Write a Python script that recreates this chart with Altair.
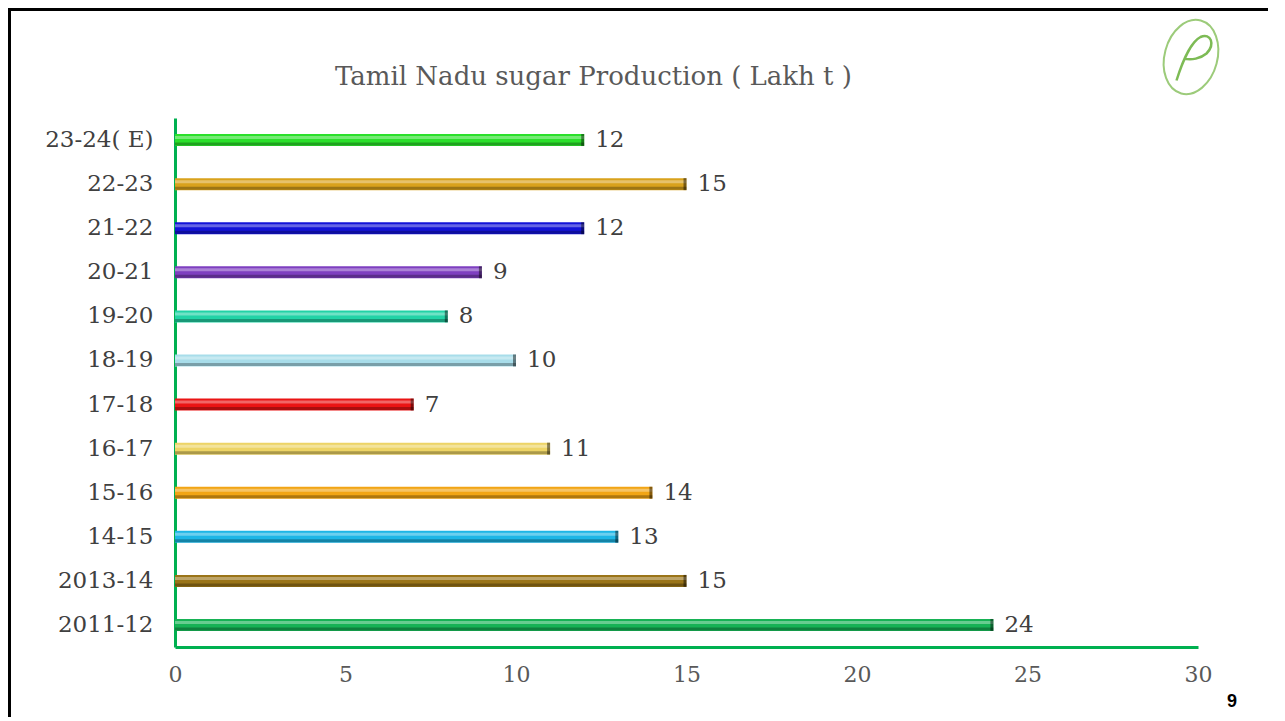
import altair as alt
import pandas as pd

categories = ["23-24( E)", "22-23", "21-22", "20-21", "19-20", "18-19",
              "17-18", "16-17", "15-16", "14-15", "2013-14", "2011-12"]
values = [12, 15, 12, 9, 8, 10, 7, 11, 14, 13, 15, 24]
bar_colors = ["#2BE02B", "#D9A21C", "#1414D8", "#7E3FC0", "#22D3A6", "#A8DDEA",
              "#EA1414", "#EDD466", "#F2A514", "#1CB6E6", "#9A7418", "#17B255"]
x_ticks = [0, 5, 10, 15, 20, 25, 30]
title_text = "Tamil Nadu sugar Production ( Lakh t )"
page_number = "9"

df = pd.DataFrame({"season": categories, "value": values, "color": bar_colors})

W, H = 1023, 529
LEFT, TOP = 167, 110
SERIF = "DejaVu Serif"

x_enc = alt.X("value:Q",
              scale=alt.Scale(domain=[0, 30], nice=False),
              axis=alt.Axis(values=x_ticks, title=None, grid=False, ticks=False,
                            labelFlush=False,
                            domainColor="#00B050", domainWidth=3,
                            labelFont=SERIF, labelFontSize=22, labelColor="#595959",
                            labelPadding=17))
y_enc = alt.Y("season:N", sort=categories,
              scale=alt.Scale(paddingInner=0.72, paddingOuter=0.36),
              axis=alt.Axis(title=None, grid=False, ticks=False,
                            domainColor="#00B050", domainWidth=3,
                            labelFont=SERIF, labelFontSize=23, labelColor="#404040",
                            labelPadding=22))

base = alt.Chart(df)

bars = base.mark_bar(size=12).encode(
    x=x_enc, y=y_enc,
    color=alt.Color("color:N", scale=None),
)
highlight = base.mark_bar(size=3, yOffset=-2.5, color="white", opacity=0.35).encode(
    x="value:Q", y=alt.Y("season:N", sort=categories))
shadow = base.mark_bar(size=3, yOffset=4, color="black", opacity=0.28).encode(
    x="value:Q", y=alt.Y("season:N", sort=categories))
caps = base.mark_tick(thickness=3, size=12, xOffset=-1.5, color="black", opacity=0.45).encode(
    x="value:Q", y=alt.Y("season:N", sort=categories))
labels = base.mark_text(align="left", baseline="middle", dx=11, font=SERIF,
                        fontSize=23, color="#404040").encode(
    x="value:Q", y=alt.Y("season:N", sort=categories), text="value:Q")

# decorations (slide frame, title, logo, page number)
deco = pd.DataFrame({"k": [1]})
frame_left = alt.Chart(deco).mark_rule(color="black", strokeWidth=3).encode(
    x=alt.value(-165.5), y=alt.value(-109), y2=alt.value(H + 95))
frame_top = alt.Chart(deco).mark_rule(color="black", strokeWidth=3).encode(
    x=alt.value(-167), x2=alt.value(W + 70), y=alt.value(-108.5))
title = alt.Chart(pd.DataFrame({"t": [title_text]})).mark_text(
    align="left", baseline="middle", font=SERIF, fontSize=26, color="#595959").encode(
    x=alt.value(160), y=alt.value(-41), text="t:N")
ellipse_path = "M 0,-1 A 0.7,1 0 1,1 0,1 A 0.7,1 0 1,1 0,-1 Z"
logo_ring = alt.Chart(deco).mark_point(
    shape=ellipse_path, size=5700, angle=15, filled=False,
    stroke="#9CCB7A", strokeWidth=2, opacity=1).encode(
    x=alt.value(1016), y=alt.value(-61))
swash_path = ("M -0.55,0.85 C -0.35,0.2 -0.05,-0.45 0.25,-0.6 "
              "C 0.6,-0.75 0.75,-0.35 0.45,-0.05 C 0.25,0.12 -0.05,0.18 -0.3,0.12")
logo_p = alt.Chart(deco).mark_point(
    shape=swash_path, size=3600, filled=False,
    stroke="#7DBB55", strokeWidth=2.5, opacity=1).encode(
    x=alt.value(1018), y=alt.value(-63))
page = alt.Chart(pd.DataFrame({"p": [page_number]})).mark_text(
    align="center", baseline="middle", font="Liberation Sans", fontSize=18,
    fontWeight="bold", color="black").encode(
    x=alt.value(1057), y=alt.value(584), text="p:N")

chart = alt.layer(frame_left, frame_top, bars, highlight, shadow, caps, labels,
                  title, logo_ring, logo_p, page).properties(
    width=W, height=H,
    background="white",
    autosize=alt.AutoSizeParams(type="none"),
    padding={"left": LEFT, "top": TOP, "right": 70, "bottom": 70},
).configure_view(stroke=None, strokeOpacity=0, strokeWidth=0)

chart.save("out.html", embed_options={"renderer": "svg", "actions": False})
